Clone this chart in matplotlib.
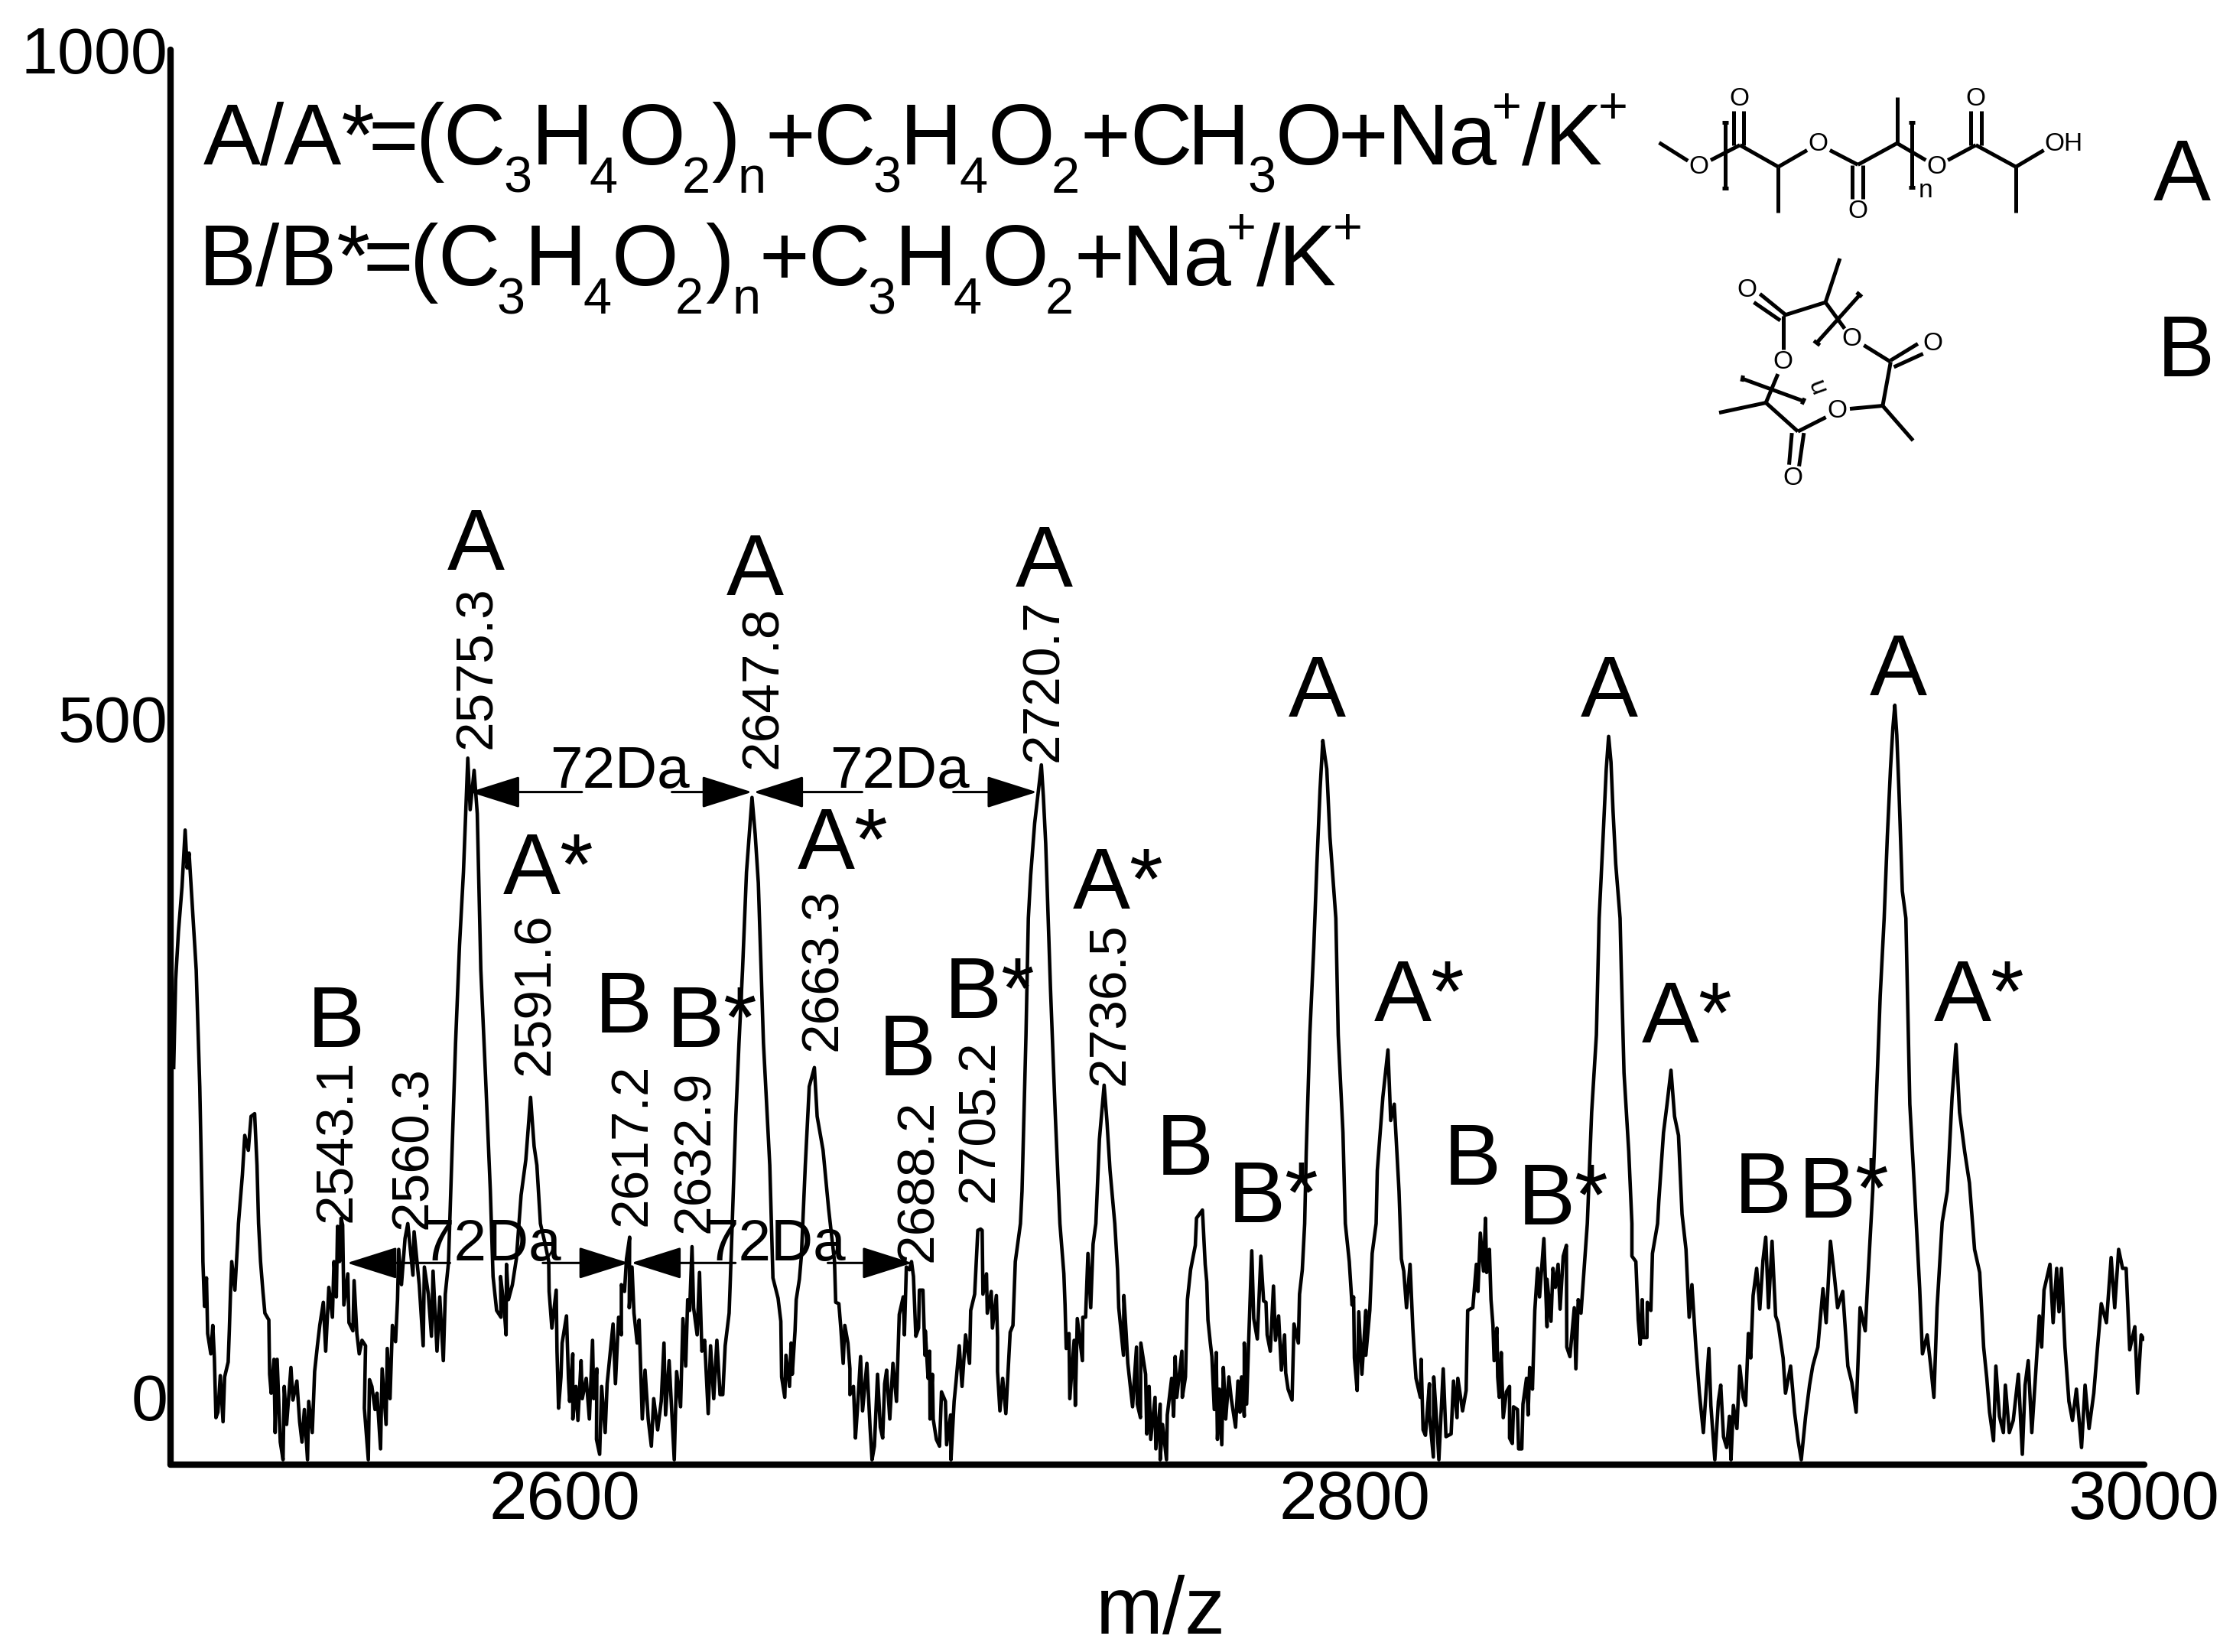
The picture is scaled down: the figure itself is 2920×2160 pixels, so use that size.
import matplotlib
matplotlib.use("Agg")
import matplotlib.pyplot as plt
from matplotlib.transforms import ScaledTranslation
import numpy as np

plt.rcParams['font.family'] = ['Liberation Sans', 'DejaVu Sans']

# spectrum, (m/z, intensity)
spec_a = [(2500.9,250),(2501.4,315),(2502.1,350),(2503,383),(2503.8,425),(2504.3,397),(2504.8,408),(2505.4,379),
    (2506.6,322),(2507.5,236),(2508.2,135),(2508.3,107),(2508.7,74),(2509.2,95),(2509.5,54),(2510.3,39),(2510.8,60),
    (2511.2,36),(2511.6,-8),(2512.1,-4),(2512.7,23),(2513.4,-11),(2513.8,22),(2514.7,33),(2515,57),(2515.3,85),
    (2515.6,107),(2516.4,86),(2517.1,122),(2517.3,135),(2518.3,171),(2518.9,200),(2519.8,189),(2520.5,214),(2521.4,216),
    (2522,178),(2522.4,135),(2522.9,107),(2523.5,85),(2524,69),(2525,64),(2525.2,24),(2525.6,10),(2526.3,35),(2526.6,-19),
    (2527.1,35),(2527.9,-26),(2528.6,-39),(2528.9,15),(2529.5,-13),(2530.6,29),(2531.1,5),(2532.1,19),(2532.8,-11),
    (2533.4,-26),(2534,-2),(2534.8,-39),(2535.1,4),(2536,-19),(2536.6,26),(2537.3,45),(2537.9,60),(2538.8,77),(2539.4,41),
    (2540.2,88),(2541.1,66),(2541.5,107),(2542.1,81),(2542.4,133),(2542.9,107),(2543.3,139),(2543.7,134),(2544,75),
    (2545,98),(2545.3,62),(2546.3,56),(2546.6,93),(2547.3,54),(2547.9,39),(2548.6,49),(2549.5,45),(2549.2,-1),(2550.2,-39),
    (2550.5,20),(2551.1,15),(2551.9,-2),(2552.4,10),(2553.3,-31),(2553.7,28),(2554.7,-13),(2555,43),(2555.7,6),(2556.3,60),
    (2557.1,48),(2557.6,79),(2557.9,116),(2558.6,90),(2559.5,124),(2560.2,135),(2561.5,97),(2561.8,129),(2563.1,90),
    (2564.1,45),(2564.4,103),(2565.4,83),(2566.2,52),(2566.6,100),(2567.6,41),(2568.3,81),(2569.2,34),(2569.7,83),
    (2570.5,106),(2571.3,178),(2572.3,268),(2573.3,340),(2574.3,394),(2575.4,478),(2576,440),(2577,469),
    (2577.8,437),(2578.7,322),(2579.9,243),(2581.1,160),(2581.8,96),(2582.7,71),(2583.8,66),(2583.7,96),(2584.6,73),
    (2585.1,53),(2585.2,105),(2585.7,79),(2586.7,90),(2587.7,109),(2588.9,156),(2590.1,182),(2591.3,228),(2592.2,192),
    (2592.9,178),(2593.8,135),(2595,120),(2595.9,107),(2596,85),(2596.7,58),(2597.8,86),(2598,41),(2598.4,-1),(2599,22),
    (2599.3,47)]
spec_b = [(2600.4,67),(2600.9,21),(2601.2,4),(2602,39),(2602,-9),(2602.8,15),(2603.3,-10),(2604.1,34),(2604.4,6),(2605.4,21),
    (2606.2,-9),(2607,49),(2607.3,6),(2608.1,28),(2608,-24),(2608.8,-35),(2609.3,15),(2610.2,-19),(2610.7,17),(2612.2,61),
    (2612.8,17),(2613.6,66),(2614.3,53),(2614.3,90),(2615.1,85),(2615.6,109),(2616.4,125),(2616.3,73),(2617,103),(2617.5,69),
    (2618.3,47),(2618.8,64),(2619.3,19),(2619.6,-9),(2620.3,27),(2621.1,-9),(2621.9,-29),(2622.5,6),(2623.5,-17),(2624.4,4),
    (2625.1,47),(2625.5,-6),(2626.4,34),(2627.7,-39),(2628.3,26),(2629.3,0),(2629.9,65),(2630.6,30),(2631.1,79),(2631.6,71),
    (2632.2,118),(2632.6,73),(2633.5,53),(2634.1,99),(2634.7,41),(2635.4,49),(2636.3,-5),(2636.9,45),(2637.7,6),(2638.5,49),
    (2639.3,9),(2640,9),(2640.6,45),(2641.6,69),(2641.9,93),(2643.3,214),(2644.1,268),(2645,322),(2646,394),(2647.4,449),
    (2648.2,422),(2649,386),(2650.3,268),(2651.9,178),(2652.7,95),(2654,80),(2654.7,63),(2654.9,22),(2655.7,7),(2656,38),
    (2656.9,15),(2657.3,47),(2657.6,24),(2658.3,56),(2658.6,79),(2659.4,94),(2659.9,111),(2660.9,178),(2661.9,236),
    (2663.2,250),(2663.9,214),(2665.4,189),(2666.8,146),(2668.3,107),(2668.6,77),(2669.4,76),(2669.9,58),(2670.5,32),
    (2670.9,60),(2671.7,47),(2672.2,28),(2672.2,9),(2673.1,15),(2673.6,-23),(2674.1,-2),(2674.9,37),(2675.4,-3),(2676.5,32),
    (2677.3,-15),(2677.8,-39),(2678.4,-29),(2679.2,24),(2679.9,-15),(2680.5,-23),(2681,17),(2681.5,27),(2682.3,-9),
    (2683.1,32),(2684,4),(2684.7,68),(2685.7,81),(2686,53),(2686.5,103),(2687.3,101),(2687.8,107),(2688.3,96),(2688.9,52),
    (2689.6,58),(2689.8,86),(2690.7,86),(2691.2,38),(2691.3,56),(2692,21),(2692.4,41),(2692.5,-9),(2693.1,24),(2693.3,-9),
    (2694.1,-24),(2694.9,-29),(2695.4,11),(2696.4,4),(2696.7,-28),(2697.7,-6),(2697.8,-39),(2698.6,4),(2699.1,19),(2699.9,45)]
spec_c = [(2700.6,15),(2701.5,53),(2702.5,32),(2702.8,71),(2703.8,83),(2704.6,130),(2705.3,131),(2705.7,130),(2705.9,83),
    (2706.8,98),(2707,69),(2708,85),(2708.3,58),(2709.3,82),(2709.6,51),(2709.6,26),(2710.2,-3),(2710.9,21),(2711.7,-5),
    (2712.8,55),(2713.5,60),(2714.1,107),(2715.4,135),(2715.8,159),(2716.8,274),(2717.4,360),(2718,392),(2719,430),
    (2720.2,460),(2720.7,473),(2721.2,450),(2721.8,415),(2723,309),(2724.2,217),(2725.4,135),(2726.4,98),(2726.7,75),
    (2727,43),(2727.7,54),(2727.9,6),(2729,49),(2729.3,1),(2729.8,65),(2731.1,34),(2731.2,66),(2731.9,66),(2732.5,113),
    (2733.2,73),(2733.8,120),(2734.5,135),(2735.4,197),(2736.6,237),(2737.3,211),(2738.1,174),(2739.3,135),(2740,101),
    (2740.3,73),(2741.5,38),(2741.6,82),(2742.2,53),(2742.6,32),(2743.8,0),(2744.8,44),(2745,2),(2745.8,-8),(2745.9,47),
    (2747.1,24),(2747.4,-20),(2748,15),(2748.4,-24),(2749.5,7),(2749.7,-31),(2750.8,2),(2750.8,-39),(2751.4,-13),
    (2752.4,-39),(2752.6,-6),(2753.7,21),(2754.2,-7),(2754.6,37),(2755,7),(2756.3,41),(2756.4,7),(2757.2,22),(2757.7,79),
    (2758.5,101),(2759.7,119),(2760,139),(2761.5,145),(2762.2,105),(2762.6,92),(2762.9,64),(2763.5,47),(2763.9,37),
    (2764.5,-2),(2765,40),(2765.3,-24),(2765.8,13),(2766.4,-28),(2766.8,29),(2767.4,-9),(2768.2,22),(2768.8,6),(2769.9,-15),
    (2770.5,19),(2771,-4),(2771.4,22),(2772.1,-7),(2772.1,47),(2772.7,2),(2773.2,47),(2774,115),(2774.5,65),(2775.4,50),
    (2776.3,111),(2777,78),(2777.6,77),(2777.9,53),(2778.7,41),(2779.5,89),(2780,49),(2780.8,67),(2781.5,27),(2782.3,53),
    (2782.6,25),(2783.2,13),(2784.2,5),(2784.7,61),(2785.8,47),(2786.1,83),(2786.8,101),(2787.4,135),(2787.8,188),
    (2788.7,274),(2789.7,338),(2790.5,400),(2791.3,455),(2792,491),(2792.5,480),(2793,470),(2793.8,420),(2795.3,360),
    (2795.9,274),(2797.1,202),(2797.7,135),(2798.7,107),(2799.4,75),(2799.8,81)]
spec_d = [(2800,36),(2800.7,12),(2801.1,70),(2801.9,24),(2802.9,71),(2802.9,38),(2803.9,71),(2804.5,113),(2805.5,135),
    (2805.8,174),(2807.2,228),(2808.5,263),(2809.2,211),(2810.1,223),(2811.3,159),(2811.9,109),(2812.5,100),(2813.2,73),
    (2814.1,105),(2814.8,58),(2815.1,43),(2815.6,21),(2816.7,7),(2816.9,35),(2817.4,-17),(2818,-21),(2819,17),(2819,-6),
    (2820,-37),(2820.1,22),(2820.8,-9),(2821.4,-39),(2822.5,28),(2823.2,-22),(2824.5,-20),(2825.1,19),(2826,-8),(2826.2,21),
    (2827.4,-3),(2828.3,12),(2828.7,71),(2830,73),(2830.9,105),(2831.3,85),(2831.9,128),(2832.7,100),(2833.2,139),
    (2833.5,99),(2834.2,116),(2834.6,79),(2835.1,60),(2835.4,34),(2836.1,58),(2836.3,22),(2836.7,7),(2837.2,40),(2837.7,-8),
    (2838.5,11),(2839.3,15),(2839.3,-23),(2840,-27),(2840.3,0),(2841.3,-2),(2841.6,-31),(2842.4,-31),(2842.7,2),(2843.6,21),
    (2844,-6),(2844.4,29),(2845.1,13),(2845.7,71),(2846.4,102),(2846.9,81),(2848,124),(2848.8,59),(2848.8,94),(2849.8,63),
    (2850.3,102),(2850.9,88),(2851.6,105),(2852.1,72),(2852.9,111),(2853.7,119),(2853.8,44),(2854.6,37),(2855.7,73),
    (2856.1,28),(2856.7,79),(2857.4,69),(2858,94),(2859,135),(2860.1,217),(2861.3,274),(2862,360),(2863,420),(2863.8,470),
    (2864.4,494),(2865,475),(2865.5,440),(2866.2,400),(2867.3,360),(2867.6,323),(2868.3,246),(2869.5,188),(2870.3,135),
    (2870.3,111),(2871.3,107),(2871.6,86),(2871.9,64),(2872.4,46),(2872.9,79),(2873.2,51),(2874.1,51),(2874.2,77),(2875.1,71),
    (2875.5,113),(2876.8,135),(2877.1,151),(2878.3,202),(2879.2,223),(2880.2,248),(2881.1,214),(2882.1,200),(2883,142),
    (2884,116),(2884.8,66),(2885.5,90),(2886.5,44),(2887.4,10),(2888.4,-19),(2889.3,21),(2889.8,43),(2890.3,1),(2891.3,-39),
    (2892.2,4),(2892.8,16),(2893.5,-22),(2894.3,-30),(2895,-7),(2895.4,-39),(2896,1),(2896.9,-16),(2897.6,30),(2898.5,7),
    (2899.1,1)]
spec_e = [(2899.8,54),(2900.4,36),(2901,82),(2901.9,102),(2902.7,72),(2903.5,108),(2904.2,125),(2904.9,73),(2905.8,122),
    (2906.7,67),(2907.3,62),(2908.6,36),(2909.2,10),(2910.5,30),(2911.5,-4),(2912.4,-25),(2913.2,-39),(2914.3,-7),(2915.3,16),
    (2916.1,30),(2917.4,44),(2918.7,87),(2919.5,62),(2920.6,122),(2921.6,96),(2922.4,73),(2923.7,85),(2925,30),(2926,18),
    (2927.1,-4),(2928.1,73),(2929.4,56),(2930,90),(2931.3,159),(2932.1,217),(2933.2,303),(2934.2,360),(2935,420),(2935.8,470),
    (2936.4,500),(2936.9,517),(2937.4,495),(2938,450),(2938.8,380),(2939.7,360),(2940.7,223),(2942,154),(2943.2,87),
    (2943.9,39),(2945.1,53),(2946,30),(2946.8,7),(2947.6,73),(2948.9,136),(2950.2,159),(2951.4,228),(2952.4,267),(2953.3,217),
    (2954.6,188),(2955.8,165),(2957.1,116),(2958.4,99),(2959.4,44),(2960.2,21),(2960.9,-4),(2961.9,-25),(2962.5,30),
    (2963.4,-7),(2964.4,-19),(2964.9,16),(2965.9,-19),(2966.9,-10),(2968.2,24),(2969.2,-35),(2969.9,16),(2970.7,34),
    (2971.6,-19),(2972.5,21),(2973.5,67),(2974.1,44),(2974.7,86),(2976.2,105),(2977,62),(2977.9,102),(2978.5,70),(2979.1,102),
    (2980,44),(2981,4),(2981.9,-10),(2982.9,13),(2984.2,-30),(2985.1,16),(2986.1,-16),(2987.3,10),(2988.2,42),(2989.2,76),
    (2990.5,62),(2991.7,110),(2992.6,73),(2993.6,116),(2994.6,102),(2995.5,102),(2996.4,42),(2997.7,59),(2998.4,10),
    (2999.3,53),(2999.9,50)]

x_ticks = [2600, 2800, 3000]
y_ticks = [0, 500, 1000]

peak_labels = ["2543.1", "2560.3", "2575.3", "2591.6", "2617.2", "2632.9",
               "2647.8", "2663.3", "2688.2", "2705.2", "2720.7", "2736.5"]
peak_label_pos = [(237, 858), (290, 863), (335, 526), (376, 755), (444, 861), (488, 866),
                  (536, 540), (578, 738), (645, 886), (688, 844), (733, 535), (780, 762)]

letters = ["A"] * 6 + ["A*"] * 6 + ["B"] * 6 + ["B*"] * 5
letter_pos = [(334, 400), (530, 418), (733, 412), (925, 503), (1130, 503), (1333, 488),
              (385, 628), (592, 610), (785, 638), (997, 717), (1185, 732), (1390, 717),
              (236, 735), (438, 725), (637, 755), (832, 825), (1034, 832), (1238, 852),
              (500, 735), (695, 715), (894, 858), (1098, 860), (1295, 855)]

# 72Da spacing arrows, (tail m/z, tip m/z, level)
arrows = [(2604.3, 2575.9, 453), (2627.1, 2647.4, 453), (2675.3, 2647.8, 453), (2698.4, 2719.6, 453),
          (2570.9, 2544.8, 106), (2594.4, 2616.2, 106), (2643.2, 2616.8, 106), (2666.6, 2688.0, 106)]
da_pos = [(435, 553), (632, 553), (345, 885), (545, 885)]

# formula pieces, (text, left edge in picture pixels)
line1_main = [("A/A*", 266), ("=", 482), ("(", 544), ("C", 579), ("H", 695), ("O", 809), (")", 930), ("+", 1000),
              ("C", 1063), ("H", 1177), ("O", 1292), ("+", 1412), ("C", 1477), ("H", 1553), ("O", 1668), ("+", 1750),
              ("Na", 1814), ("/", 1990), ("K", 2020)]
line1_sub = [("3", 658), ("4", 770), ("2", 892), ("n", 965), ("3", 1141), ("4", 1254), ("2", 1375), ("3", 1631)]
line1_sup = [("+", 1951), ("+", 2090)]
line2_main = [("B/B*", 260), ("=", 474), ("(", 536), ("C", 572), ("H", 686), ("O", 800), (")", 922), ("+", 993),
              ("C", 1056), ("H", 1170), ("O", 1284), ("+", 1405), ("Na", 1467), ("/", 1643), ("K", 1672)]
line2_sub = [("3", 649), ("4", 762), ("2", 883), ("n", 958), ("3", 1134), ("4", 1246), ("2", 1367)]
line2_sup = [("+", 1604), ("+", 1743)]

# structures, in coordinates of the overlay axes
bonds_a = [((133,320),(205,380)), ((262,378),(335,328)), ((320,330),(320,215)), ((345,330),(345,215)),
           ((335,328),(431,400)), ((431,400),(431,552)), ((431,400),(503,345)), ((560,345),(630,393)),
           ((630,393),(728,322)), ((616,395),(616,505)), ((642,395),(642,505)), ((728,322),(728,170)),
           ((728,322),(800,378)), ((855,378),(925,328)), ((912,328),(912,215)), ((938,328),(938,215)),
           ((925,328),(1025,400)), ((1025,400),(1025,552)), ((1025,400),(1095,345)),
           ((298,252),(298,470)), ((291,252),(306,252)), ((291,470),(306,470)),
           ((765,252),(765,470)), ((757,252),(772,252)), ((757,468),(772,468))]
atoms_a = [("O",233,400), ("O",333,175), ("O",530,325), ("O",630,548), ("O",826,400), ("O",925,175), ("OH",1145,325)]
bonds_b = [((585,703),(549,848)), ((549,848),(443,892)), ((443,892),(443,1003)), ((436,908),(370,848)),
           ((450,890),(385,820)), ((549,848),(597,935)), ((637,820),(525,985)), ((627,815),(640,830)),
           ((520,975),(535,990)), ((645,990),(712,1045)), ((712,1040),(780,985)), ((720,1062),(793,1018)),
           ((712,1045),(692,1190)), ((692,1190),(768,1305)), ((692,1190),(610,1200)), ((550,1228),(480,1275)),
           ((465,1280),(458,1385)), ((495,1280),(483,1390)), ((480,1275),(400,1180)), ((400,1180),(283,1213)),
           ((400,1180),(430,1085)), ((340,1100),(495,1175)), ((343,1090),(340,1110)), ((497,1165),(490,1185))]
atoms_b = [("O",352,808), ("O",615,970), ("O",818,985), ("O",578,1207), ("O",468,1430), ("O",443,1045)]

W, H = 2920, 2160
fig = plt.figure(figsize=(W / 100, H / 100), dpi=100)
ax = fig.add_axes([222.5 / W, 1 - 1915 / H, (2803.5 - 222.5) / W, (1915 - 65) / H])


def fx(x):
    # picture position (1568 wide view) to figure fraction
    return x * 1.862 / W


def fy(y):
    return 1 - y * 1.862 / H


spectrum = np.array(spec_a + spec_b + spec_c + spec_d + spec_e)
ax.plot(spectrum[:, 0], spectrum[:, 1], color="black", lw=3.3)

ax.set_xlim(2500, 3000)
ax.set_ylim(-42.6, 1000)
for side in ["top", "right"]:
    ax.spines[side].set_visible(False)
for side in ["left", "bottom"]:
    ax.spines[side].set_linewidth(6)
    ax.spines[side].set_capstyle("round")
ax.set_xticks(x_ticks)
ax.set_yticks(y_ticks)
ax.tick_params(axis="both", length=0)
ax.tick_params(axis="x", pad=4, labelsize=64)
ax.tick_params(axis="y", pad=2, labelsize=62)
ax.patch.set_alpha(0)

# the 0 and 500 labels sit a little above their true level in the original
for label in ax.get_yticklabels()[:2]:
    label.set_transform(label.get_transform() + ScaledTranslation(0, 0.13, fig.dpi_scale_trans))

ax.set_xlabel("m/z", fontsize=76)
ax.xaxis.set_label_coords(fx(815), fy(1147), transform=fig.transFigure)
ax.xaxis.label.set_va("baseline")

for label, (px, py) in zip(peak_labels, peak_label_pos):
    fig.text(fx(px), fy(py), label, fontsize=50, rotation=90, ha="center", va="bottom")
for label, (px, py) in zip(letters, letter_pos):
    fig.text(fx(px), fy(py), label, fontsize=81, ha="center", va="baseline")
for px, py in da_pos:
    fig.text(fx(px), fy(py), "72Da", fontsize=55, ha="center", va="baseline")

for tail, tip, level in arrows:
    ax.annotate("", xy=(tip, level), xytext=(tail, level),
                arrowprops=dict(arrowstyle="-|>,head_length=0.95,head_width=0.3", color="black",
                                lw=2.2, mutation_scale=44, shrinkA=0, shrinkB=0))

# header formulas, placed piece by piece because of the wide subscripts
for pieces, base, size in [(line1_main, 215, 81), (line1_sub, 252, 48), (line1_sup, 161, 48),
                           (line2_main, 373, 81), (line2_sub, 410, 48), (line2_sup, 319, 48)]:
    for text, left in pieces:
        fig.text(left / W, 1 - base / H, text, fontsize=size, va="baseline", ha="left")

# chemical structures on an overlay matching the top right corner
chem = fig.add_axes([2100 / W, 1 - 680 / H, 820 / W, 620 / H])
chem.set_xlim(0, 1568)
chem.set_ylim(1568, 0)
chem.axis("off")
for (x0, y0), (x1, y1) in bonds_a + bonds_b:
    chem.plot([x0, x1], [y0, y1], color="black", lw=3.6, solid_capstyle="butt", clip_on=False)
for atom, x, y in atoms_a + atoms_b:
    chem.text(x, y, atom, fontsize=24, ha="center", va="center")
chem.text(800, 480, "n", fontsize=24, ha="center", va="center")
chem.text(528, 1122, "n", fontsize=24, ha="center", va="center", rotation=110)
chem.text(1440, 510, "A", fontsize=81, ha="center", va="baseline")
chem.text(1450, 1092, "B", fontsize=81, ha="center", va="baseline")

fig.savefig("out.png", dpi=100)
